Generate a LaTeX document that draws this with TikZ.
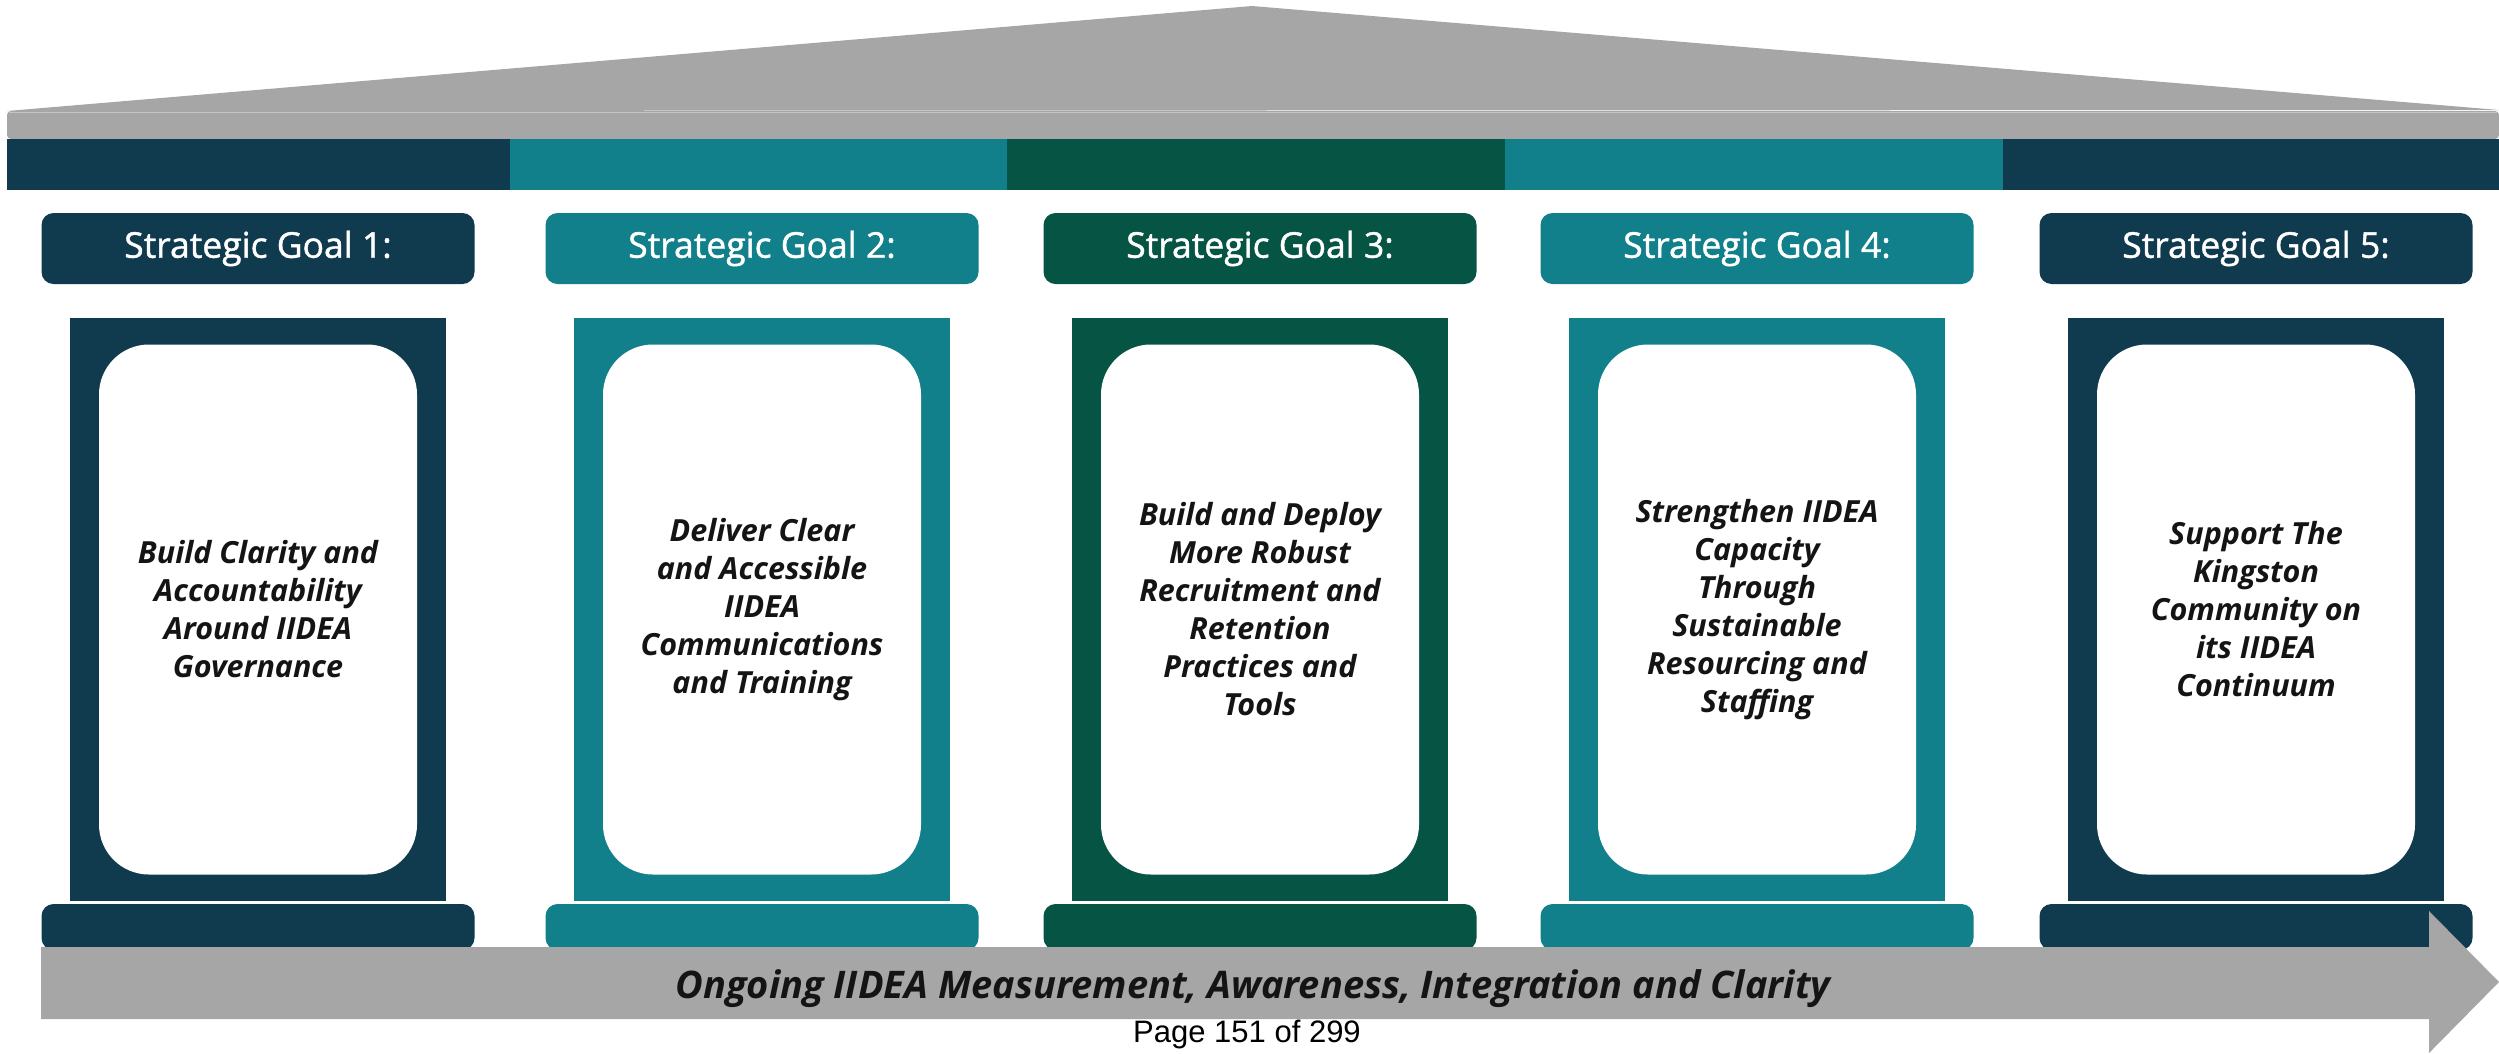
\documentclass[tikz,border=0pt]{standalone}
\usepackage{fontspec}
\setmainfont{Open Sans}
\newfontfamily\goalfont{Open Sans}[FakeBold=1.2]
\newfontfamily\pagefont{Liberation Sans}
\definecolor{cnavy}{HTML}{103B4F}
\definecolor{cteal}{HTML}{11808A}
\definecolor{cgreen}{HTML}{055444}
\definecolor{cgray}{HTML}{A6A6A6}
\definecolor{cline}{HTML}{C4C4C4}
\definecolor{ctext}{HTML}{141414}
\tikzset{
  goalbox/.style={rounded corners=12pt, minimum width=433pt, minimum height=71pt, inner sep=0pt,
    text=white, font=\goalfont\fontsize{35.5}{40}\selectfont},
  pillarbox/.style={minimum width=376pt, minimum height=583pt, inner sep=0pt},
  innerbox/.style={fill=white, rounded corners=50pt, minimum width=318pt, minimum height=530pt, inner sep=0pt,
    align=center, text=ctext, font=\bfseries\itshape\fontsize{30.5}{38}\selectfont},
  basebox/.style={rounded corners=12pt, minimum width=433pt, minimum height=46pt, inner sep=0pt},
}
\begin{document}
\begin{tikzpicture}[x=1pt,y=-1pt]
\useasboundingbox (0,0) rectangle (2499,1053);
% roof
\fill[cgray] (7,111) -- (1252,6) -- (2499,110) -- cycle;
\fill[cgray, rounded corners=4pt] (7,139) -- (7,111) -- (2499,111) -- (2499,139) -- cycle;
\draw[cline, line width=1.5pt] (9,112.5) -- (2497,112.5);
% colour bands
\fill[cnavy]  (7,139) rectangle (510,190);
\fill[cteal]  (510,139) rectangle (1007,190);
\fill[cgreen] (1007,139) rectangle (1505,190);
\fill[cteal]  (1505,139) rectangle (2003,190);
\fill[cnavy]  (2003,139) rectangle (2499,190);
% goal labels
\node[goalbox, fill=cnavy]  (g1) at (258,248.5)  {Strategic Goal 1:};
\node[goalbox, fill=cteal]  (g2) at (762,248.5)  {Strategic Goal 2:};
\node[goalbox, fill=cgreen] (g3) at (1260,248.5) {Strategic Goal 3:};
\node[goalbox, fill=cteal]  (g4) at (1757,248.5) {Strategic Goal 4:};
\node[goalbox, fill=cnavy]  (g5) at (2256,248.5) {Strategic Goal 5:};
% pillars
\node[pillarbox, fill=cnavy]  (p1) at (258,609.5)  {};
\node[pillarbox, fill=cteal]  (p2) at (762,609.5)  {};
\node[pillarbox, fill=cgreen] (p3) at (1260,609.5) {};
\node[pillarbox, fill=cteal]  (p4) at (1757,609.5) {};
\node[pillarbox, fill=cnavy]  (p5) at (2256,609.5) {};
\node[innerbox] (t1) at (p1.center) {Build Clarity and\\Accountability\\Around IIDEA\\Governance};
\node[innerbox] (t2) at (p2.center) {Deliver Clear\\and Accessible\\IIDEA\\Communications\\and Training};
\node[innerbox] (t3) at (p3.center) {Build and Deploy\\More Robust\\Recruitment and\\Retention\\Practices and\\Tools};
\node[innerbox] (t4) at (p4.center) {Strengthen IIDEA\\Capacity\\Through\\Sustainable\\Resourcing and\\Staffing};
\node[innerbox] (t5) at (p5.center) {Support The\\Kingston\\Community on\\its IIDEA\\Continuum};
% bases
\node[basebox, fill=cnavy]  (b1) at (258,927)  {};
\node[basebox, fill=cteal]  (b2) at (762,927)  {};
\node[basebox, fill=cgreen] (b3) at (1260,927) {};
\node[basebox, fill=cteal]  (b4) at (1757,927) {};
\node[basebox, fill=cnavy]  (b5) at (2256,927) {};
% arrow
\fill[cgray] (41,947) -- (2429,947) -- (2429,911) -- (2499,982) -- (2429,1053) -- (2429,1019) -- (41,1019) -- cycle;
\node[text=ctext, font=\bfseries\itshape\fontsize{38}{42}\selectfont, inner sep=0pt] (arr) at (1253,989) {Ongoing IIDEA Measurement, Awareness, Integration and Clarity};
% page
\node[font=\pagefont\fontsize{31}{34}\selectfont, inner sep=0pt, text=black] (pg) at (1247,1034) {Page 151 of 299};
\end{tikzpicture}
\end{document}
